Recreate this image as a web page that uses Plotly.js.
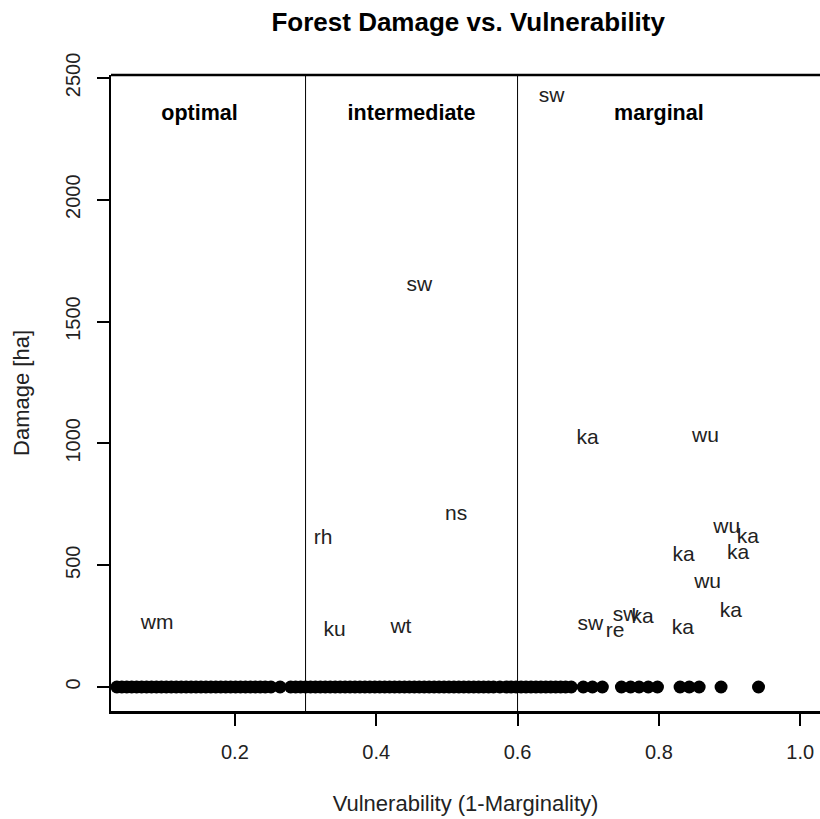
<!DOCTYPE html>
<html>
<head>
<meta charset="utf-8">
<script src="https://cdn.plot.ly/plotly-3.0.1.min.js"></script>
<style>
html,body{margin:0;padding:0;overflow:hidden;background:#fff;}
#chart{width:820px;height:819px;}
</style>
</head>
<body>
<div id="chart"></div>
<script>
// Stands with zero damage (vulnerability values)
const zeroX = [
0.033,0.040,0.047,0.054,0.061,0.068,0.075,0.082,0.089,0.096,
0.103,0.110,0.117,0.124,0.131,0.138,0.145,0.152,0.159,0.166,
0.173,0.180,0.187,0.194,0.201,0.208,0.215,0.222,0.229,0.236,
0.243,0.251,0.264,0.279,0.286,0.293,0.300,0.307,0.314,0.321,
0.328,0.335,0.342,0.349,0.356,0.363,0.370,0.377,0.384,0.391,
0.398,0.405,0.412,0.419,0.426,0.433,0.440,0.447,0.454,0.461,
0.468,0.475,0.482,0.489,0.496,0.503,0.510,0.517,0.524,0.531,
0.538,0.545,0.552,0.559,0.566,0.575,0.584,0.591,0.598,0.605,
0.612,0.619,0.626,0.633,0.640,0.647,0.654,0.661,0.668,0.676,
0.693,0.706,0.720,0.747,0.760,0.772,0.785,0.798,0.830,0.843,
0.857,0.888,0.941];
const zeroY = [
0,0,0,0,0,0,0,0,0,0,
0,0,0,0,0,0,0,0,0,0,
0,0,0,0,0,0,0,0,0,0,
0,0,0,0,0,0,0,0,0,0,
0,0,0,0,0,0,0,0,0,0,
0,0,0,0,0,0,0,0,0,0,
0,0,0,0,0,0,0,0,0,0,
0,0,0,0,0,0,0,0,0,0,
0,0,0,0,0,0,0,0,0,0,
0,0,0,0,0,0,0,0,0,0,
0,0,0];

// Damaged stands, labelled by species code
const labX = [0.648,0.461,0.699,0.866,0.513,0.325,0.896,0.926,0.835,0.912,0.869,0.902,0.834,0.703,0.738,0.753,0.777,0.090,0.341,0.435];
const labY = [2422,1646,1018,1026,706,607,653,612,538,546,427,308,238,254,226,291,283,259,230,242];
const labText = ["sw","sw","ka","wu","ns","rh","wu","ka","ka","ka","wu","ka","ka","sw","re","sw","ka","wm","ku","wt"];

// Zones
const zoneBreaks = [0.3, 0.6];
const zoneNames = ["optimal","intermediate","marginal"];
const zoneX = [0.15, 0.45, 0.8];
const zoneY = [2350, 2350, 2350];

const xTicks = [0.2,0.4,0.6,0.8,1.0];
const xTickText = ["0.2","0.4","0.6","0.8","1.0"];
const yTicks = [0,500,1000,1500,2000,2500];

const font = "Liberation Sans, Arial, Helvetica, sans-serif";

const traces = [
  {x: zeroX, y: zeroY, type: "scatter", mode: "markers",
   marker: {color: "#000", size: 13}, hoverinfo: "skip", cliponaxis: false},
  {x: labX, y: labY, type: "scatter", mode: "text", text: labText,
   textposition: "middle center", textfont: {family: font, size: 21, color: "#222"}, hoverinfo: "skip"},
  {x: zoneX, y: zoneY, type: "scatter", mode: "text", text: zoneNames.map(s => "<b>" + s + "</b>"),
   textposition: "middle center", textfont: {family: font, size: 21.5, color: "#000"}, hoverinfo: "skip"}
];

const shapes = zoneBreaks.map(b => ({type: "line", xref: "x", yref: "paper", x0: b, x1: b, y0: 0, y1: 1,
  line: {color: "#000", width: 1}}));
shapes.push({type: "line", xref: "paper", yref: "paper", x0: 0, x1: 1, y0: 1, y1: 1, line: {color: "#000", width: 2.5}});

const layout = {
  width: 820, height: 819,
  margin: {l: 111, r: 0, t: 75, b: 108},
  paper_bgcolor: "#fff", plot_bgcolor: "#fff",
  showlegend: false,
  font: {family: font, color: "#000"},
  title: {text: "<b>Forest Damage vs. Vulnerability</b>", font: {family: font, size: 26, color: "#000"},
          x: 0.571, xanchor: "center", y: 0.973, yanchor: "middle"},
  xaxis: {range: [0.0247, 1.028], showgrid: false, zeroline: false, showline: true, linecolor: "#000", linewidth: 2.5,
          ticks: "outside", ticklen: 12, tickwidth: 2, tickcolor: "#000",
          tickvals: xTicks, ticktext: xTickText, tickfont: {family: font, size: 20, color: "#222"},
          ticklabelstandoff: 9,
          title: {text: "Vulnerability (1-Marginality)", font: {family: font, size: 22, color: "#222"}, standoff: 34}},
  yaxis: {range: [-98.5, 2512], showgrid: false, zeroline: false, showline: true, linecolor: "#000", linewidth: 2.5,
          ticks: "outside", ticklen: 12, tickwidth: 2, tickcolor: "#000",
          tickvals: yTicks, tickangle: -90, tickfont: {family: font, size: 20, color: "#222"},
          ticklabelstandoff: 9,
          title: {text: "Damage [ha]", font: {family: font, size: 22, color: "#222"}, standoff: 26}},
  shapes: shapes
};

Plotly.newPlot("chart", traces, layout, {displayModeBar: false, staticPlot: true});
</script>
</body>
</html>
